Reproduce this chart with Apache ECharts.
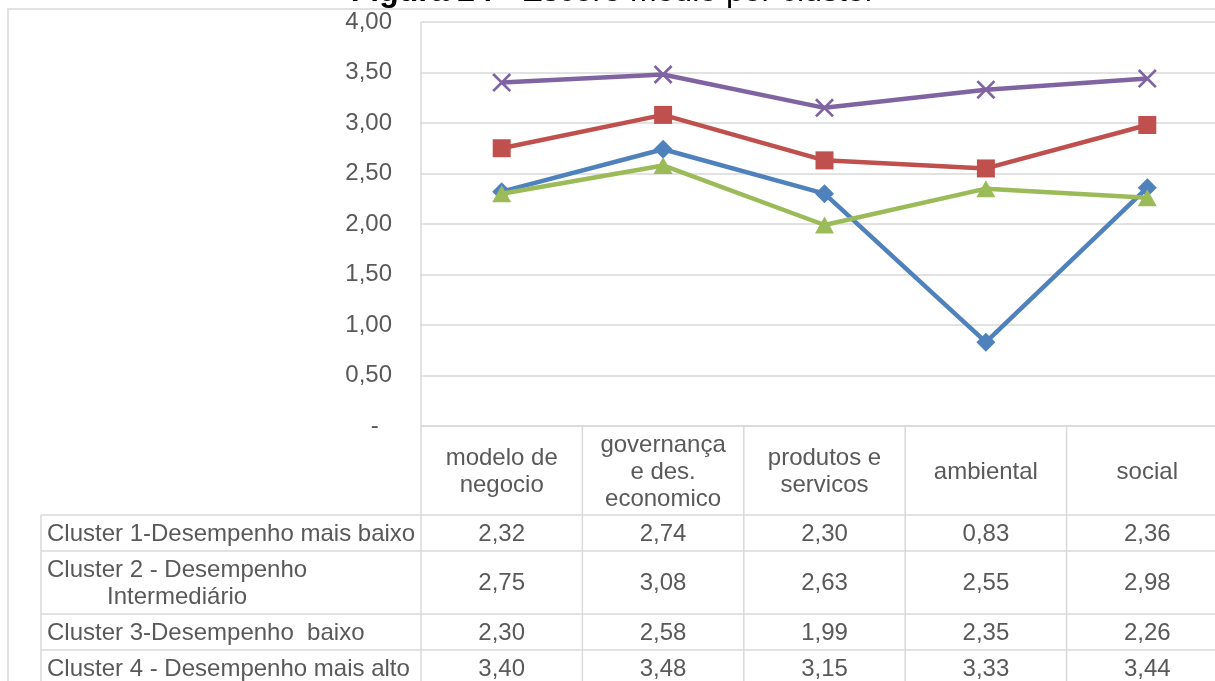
<!DOCTYPE html>
<html>
<head>
<meta charset="utf-8">
<script src="https://cdn.jsdelivr.net/npm/echarts@6/dist/echarts.min.js"></script>
<style>
  html, body { margin: 0; padding: 0; background: #fff; overflow: hidden; }
  #chart { width: 1215px; height: 681px; }
</style>
</head>
<body>
<div id="chart"></div>
<script>
// Dimension headers (one entry per category, lines split with \n)
const categories = ['modelo de\nnegocio', 'governança\ne des.\neconomico', 'produtos e\nservicos', 'ambiental', 'social'];

// Cluster names as shown in the data table (each entry is a list of lines)
const clusterNames = [
  ['Cluster 1-Desempenho mais baixo'],
  ['Cluster 2 - Desempenho', 'Intermediário'],
  ['Cluster 3-Desempenho  baixo'],
  ['Cluster 4 - Desempenho mais alto']
];

// Mean score per dimension
const cluster1 = [2.32, 2.74, 2.30, 0.83, 2.36];
const cluster2 = [2.75, 3.08, 2.63, 2.55, 2.98];
const cluster3 = [2.30, 2.58, 1.99, 2.35, 2.26];
const cluster4 = [3.40, 3.48, 3.15, 3.33, 3.44];

const titleBold = 'Figura 24';
const titleRest = ' - Escore médio por cluster';

const clusterValues = [cluster1, cluster2, cluster3, cluster4];
const colors = ['#4f81bd', '#c0504d', '#9bbb59', '#8064a2'];
const crossPath = 'path://M1,0 L5,4 L9,0 L10,1 L6,5 L10,9 L9,10 L5,6 L1,10 L0,9 L4,5 L0,1 Z';
const symbols = ['diamond', 'rect', 'triangle', crossPath];
const symbolSizes = [19, 18, [19, 17], 19];

const FONT_FAMILY = '"Liberation Sans", Arial, sans-serif';
const TEXT_COLOR = '#595959';
const RULE_COLOR = '#d9d9d9';
const FS = 24;

const fmt = v => v.toFixed(2).replace('.', ',');

const GRID = { left: 421, top: 22, width: 807, height: 404 };
// table rows: top/bottom edges below the category header
const TABLE_LEFT = 41;
const HEADER_BOTTOM = 515;
const rowEdges = [515, 551, 614, 650, 686];

const chart = echarts.init(document.getElementById('chart'), null, { renderer: 'canvas' });

chart.setOption({
  animation: false,
  backgroundColor: '#ffffff',
  grid: {
    left: GRID.left, top: GRID.top, width: GRID.width, height: GRID.height,
    containLabel: false, outerBoundsMode: 'none'
  },
  xAxis: {
    type: 'category',
    data: categories,
    boundaryGap: true,
    axisLine: { show: true, lineStyle: { color: RULE_COLOR, width: 1.5 } },
    axisTick: { show: false },
    axisLabel: {
      show: true,
      interval: 0,
      color: TEXT_COLOR,
      fontFamily: FONT_FAMILY,
      fontSize: FS,
      lineHeight: 27,
      verticalAlign: 'middle',
      margin: 46
    },
    splitLine: { show: false }
  },
  yAxis: {
    type: 'value',
    min: 0,
    max: 4,
    interval: 0.5,
    axisLine: { show: false },
    axisTick: { show: false },
    axisLabel: {
      color: TEXT_COLOR,
      fontFamily: FONT_FAMILY,
      fontSize: FS,
      margin: 29,
      formatter: v => (v === 0 ? '-  ' : fmt(v))
    },
    splitLine: { show: true, lineStyle: { color: RULE_COLOR, width: 1.5 } }
  },
  series: clusterValues.map((vals, i) => ({
    name: clusterNames[i].join(' '),
    type: 'line',
    data: vals,
    symbol: symbols[i],
    symbolSize: symbolSizes[i],
    showAllSymbol: true,
    lineStyle: { color: colors[i], width: 4.5 },
    itemStyle: { color: colors[i], borderWidth: 0 },
    z: 3 + i
  }))
});

function buildGraphic() {
  const els = [];
  const line = (x1, y1, x2, y2) => ({
    type: 'line', silent: true,
    shape: { x1, y1, x2, y2 },
    style: { stroke: RULE_COLOR, lineWidth: 1.5 }
  });
  const text = (t, x, y, align) => ({
    type: 'text', silent: true,
    style: {
      text: t, x, y,
      fill: TEXT_COLOR,
      fontFamily: FONT_FAMILY, fontSize: FS,
      textAlign: align || 'center', textVerticalAlign: 'middle'
    }
  });

  // outer chart frame
  els.push({
    type: 'rect', silent: true,
    shape: { x: 8, y: 9, width: 1400, height: 900 },
    style: { fill: 'none', stroke: RULE_COLOR, lineWidth: 1.5 }
  });

  // title (only its lower part falls inside the canvas)
  els.push({
    type: 'text', silent: true,
    style: {
      text: '{b|' + titleBold + '}' + titleRest,
      x: 613, y: 8.5,
      fill: '#000',
      fontFamily: FONT_FAMILY, fontSize: 32,
      textAlign: 'center', textVerticalAlign: 'bottom',
      rich: { b: { fontWeight: 'bold', fontFamily: FONT_FAMILY, fontSize: 32, fill: '#000' } }
    }
  });

  const bottom = rowEdges[rowEdges.length - 1];
  const plotRight = GRID.left + GRID.width;

  // column boundaries and centers from the category axis
  const centers = categories.map((c, i) => chart.convertToPixel({ xAxisIndex: 0 }, i));
  const band = centers.length > 1 ? centers[1] - centers[0] : GRID.width;
  const boundaries = centers.map(cx => cx - band / 2);
  boundaries.push(centers[centers.length - 1] + band / 2);

  // vertical axis / table separator lines
  els.push(line(GRID.left, GRID.top, GRID.left, bottom));
  boundaries.slice(1).forEach(bx => {
    els.push(line(bx, GRID.top + GRID.height, bx, bottom));
  });
  // left edge of the row-label column
  els.push(line(TABLE_LEFT, HEADER_BOTTOM, TABLE_LEFT, bottom));
  // horizontal rows
  rowEdges.forEach(y => els.push(line(TABLE_LEFT, y, plotRight, y)));

  // row labels and values
  clusterValues.forEach((vals, r) => {
    const top = rowEdges[r];
    const bot = rowEdges[r + 1];
    const mid = (top + bot) / 2 + 1;
    const lines = clusterNames[r];
    if (lines.length === 1) {
      els.push(text(lines[0], 47, mid, 'left'));
    } else {
      els.push(text(lines[0], 47, mid - 13.5, 'left'));
      els.push(text(lines[1], 107, mid + 13.5, 'left'));
    }
    vals.forEach((v, c) => {
      els.push(text(fmt(v), centers[c], mid));
    });
  });

  return els;
}

chart.setOption({ graphic: { elements: buildGraphic() } });
</script>
</body>
</html>
